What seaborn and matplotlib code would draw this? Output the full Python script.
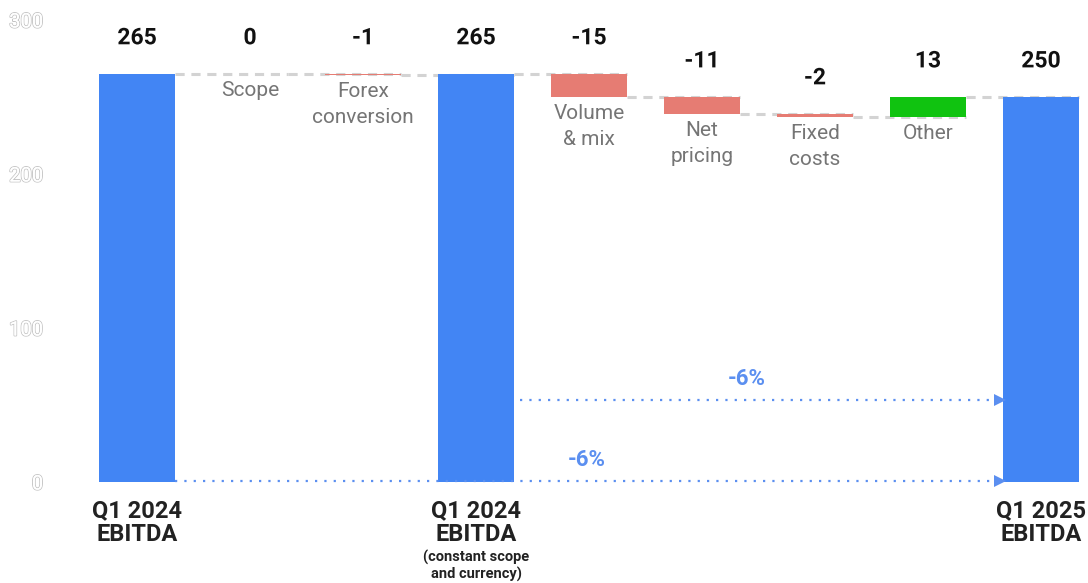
import numpy as np
import pandas as pd
import matplotlib
matplotlib.use("Agg")
import matplotlib.pyplot as plt
import matplotlib.patheffects as pe
import matplotlib.transforms as mtransforms
import seaborn as sns

# ---- data -------------------------------------------------------------
keys = ["start", "scope", "forex", "constant", "volume", "pricing", "fixed", "other", "end"]
tick_labels = ["Q1 2024\nEBITDA", "", "", "Q1 2024\nEBITDA", "", "", "", "", "Q1 2025\nEBITDA"]
inner_labels = ["", "Scope", "Forex\nconversion", "", "Volume\n& mix", "Net\npricing", "Fixed\ncosts", "Other", ""]
values = [265, 0, -1, 265, -15, -11, -2, 13, 250]
is_total = [True, False, False, True, False, False, False, False, True]
change_pct = ["-6%", "-6%"]
pct_levels = [53, 0]

BLUE = "#4285F4"
RED = "#E67C73"
GREEN = "#10C310"
BAR_W = 0.67

# running levels of the bridge
bottoms, tops = [], []
level = 0
for v, tot in zip(values, is_total):
    if tot:
        bottoms.append(0)
        tops.append(v)
        level = v
    else:
        bottoms.append(level)
        level = level + v
        tops.append(level)

colors = {}
for k, v, tot in zip(keys, values, is_total):
    colors[k] = BLUE if tot else (GREEN if v > 0 else RED)

df = pd.DataFrame({
    "key": keys,
    "height": [abs(t - b) for t, b in zip(tops, bottoms)],
})

sns.set_theme(style="white")
plt.rcParams["font.family"] = ["Roboto", "DejaVu Sans"]

fig = plt.figure(figsize=(10.88, 5.83), dpi=100)
ax = fig.add_axes([0.0512, 0.1732, 0.9471, 0.7925])

sns.barplot(data=df, x="key", y="height", hue="key", order=keys, hue_order=keys,
            palette=colors, width=BAR_W, legend=False, ax=ax, zorder=3,
            saturation=1)

# lift the floating bars onto their running level
for i, p in enumerate(ax.patches[:len(keys)]):
    p.set_y(min(bottoms[i], tops[i]))
    p.set_edgecolor("none")

# dashed connectors between consecutive steps
for i in range(len(keys) - 1):
    y = tops[i]
    ax.plot([i + BAR_W / 2, i + 1 + BAR_W / 2], [y, y], color="#d3d3d3",
            lw=2.2, dashes=(3, 2.2), zorder=2, solid_capstyle="butt")

# value labels above each step and descriptions below
for i, v in enumerate(values):
    upper = max(bottoms[i], tops[i])
    lower = min(bottoms[i], tops[i])
    ax.annotate(f"{v}", (i, upper), xytext=(0, 26), textcoords="offset points",
                ha="center", va="center", fontsize=16.5, fontweight="bold",
                color="#111111", zorder=5,
                path_effects=[pe.withStroke(linewidth=3, foreground="white")])
    if inner_labels[i]:
        ax.annotate(inner_labels[i], (i, lower), xytext=(0, -5),
                    textcoords="offset points", ha="center", va="top",
                    fontsize=15, color="#757575", linespacing=1.45, zorder=5)

# change arrows towards the final bar
ARROW = "#5B8FF0"
end_x = 8 - BAR_W / 2
starts = [3 + BAR_W / 2 + 0.05, 0 + BAR_W / 2]
pct_pos = [(5.4, 67), (3.98, 14)]
for s, lvl, txt, (tx, ty) in zip(starts, pct_levels, change_pct, pct_pos):
    ax.plot([s, end_x - 0.06], [lvl + 0.5, lvl + 0.5], color=ARROW, lw=1.6,
            linestyle=(0, (1, 3.2)), zorder=4, clip_on=False)
    ax.plot([end_x - 0.03], [lvl + 0.5], marker=">", markersize=9, color=ARROW,
            markeredgewidth=0, zorder=4, clip_on=False)
    ax.text(tx, ty, txt, ha="center", va="center", fontsize=16,
            fontweight="bold", color=ARROW, zorder=5)

# axes styling
ax.set_xlim(-0.72, 8.4)
ax.set_ylim(0, 300)
ax.set_yticks([0, 100, 200, 300])
ax.set_xticks(range(len(keys)))
ax.set_xticklabels(tick_labels, fontsize=17, fontweight="bold",
                   color="#222222", linespacing=1.1)
ax.set_xlabel("")
ax.set_ylabel("")
ax.tick_params(axis="x", length=0, pad=12)
ax.tick_params(axis="y", length=0, pad=9, labelsize=14.5, labelcolor="white")
for lab in ax.get_yticklabels():
    lab.set_path_effects([pe.withStroke(linewidth=1.3, foreground="#c4c4c4"),
                          pe.Normal()])
for sp in ax.spines.values():
    sp.set_visible(False)

trans = mtransforms.blended_transform_factory(ax.transData, ax.transAxes)
ax.text(3, -0.147, "(constant scope\nand currency)", transform=trans,
        ha="center", va="top", fontsize=10.5, fontweight="bold",
        color="#222222", linespacing=1.15)

fig.savefig("out.png", dpi=100)
